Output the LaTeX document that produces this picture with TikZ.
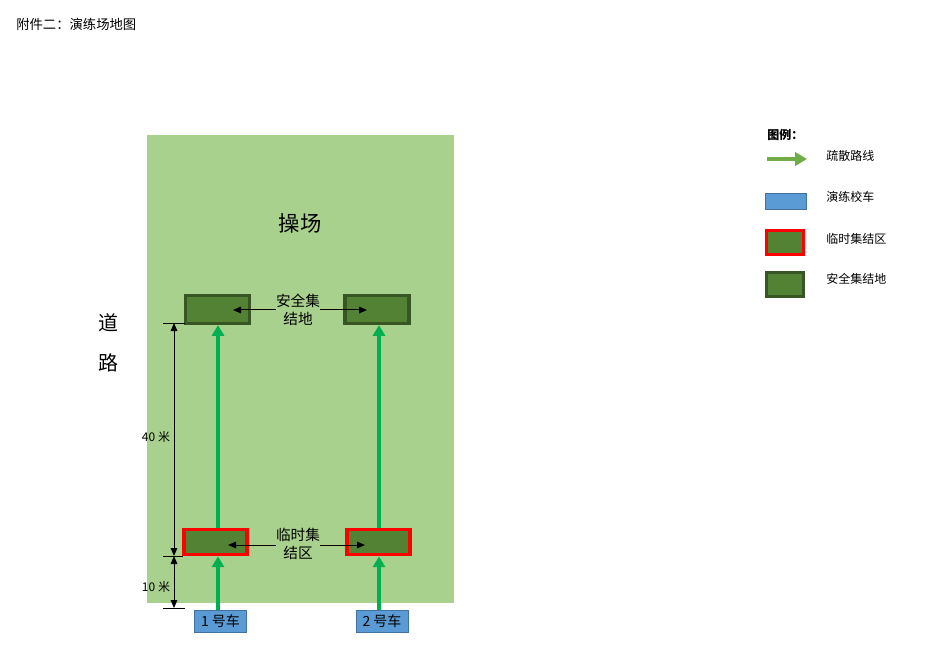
\documentclass[tikz,border=0pt]{standalone}
\usepackage{fontspec}
\setmainfont{Noto Sans CJK SC}
\usetikzlibrary{arrows.meta}
\definecolor{field}{HTML}{A9D18E}
\definecolor{boxfill}{HTML}{548235}
\definecolor{boxdark}{HTML}{375623}
\definecolor{routegreen}{HTML}{00B050}
\definecolor{legendgreen}{HTML}{70AD47}
\definecolor{busfill}{HTML}{5B9BD5}
\definecolor{busedge}{HTML}{41719C}
\begin{document}
\begin{tikzpicture}[x=0.75pt,y=-0.75pt,
  safebox/.style={draw=boxdark,fill=boxfill,line width=2.4pt,inner sep=0pt},
  tempbox/.style={draw=red,fill=boxfill,line width=2.6pt,inner sep=0pt},
  busbox/.style={draw=busedge,fill=busfill,line width=0.6pt,inner sep=0pt},
  route/.style={draw=routegreen,line width=3pt,-{Triangle[length=8pt,width=9pt]}},
  pointer/.style={draw=black,line width=0.75pt,-{Triangle[length=6pt,width=5pt]}},
  dim/.style={draw=black,line width=0.75pt},
  dimarrow/.style={dim,{Triangle[length=6pt,width=5pt]}-{Triangle[length=6pt,width=5pt]}},
  lbl/.style={inner sep=0pt,align=center}
]
\useasboundingbox (0,0) rectangle (934,648);
% title
\node[lbl,anchor=west,font=\fontsize{10pt}{11pt}\selectfont] (title) at (16,24) {附件二：演练场地图};
% field
\fill[field] (147,135) rectangle (454,603);
\node[lbl,font=\fontsize{16pt}{18pt}\selectfont] (playground) at (300,223) {操场};
% safety boxes
\node[safebox,minimum width=48pt,minimum height=21pt] (s1) at (217.5,309.5) {};
\node[safebox,minimum width=48pt,minimum height=21pt] (s2) at (377,309.5) {};
\node[lbl,font=\fontsize{11pt}{13pt}\selectfont] (stext) at (298,310) {安全集\\结地};
\coordinate (s1c) at (233,310);
\coordinate (s2c) at (367,310);
\draw[pointer] (stext.west |- s1c) -- (s1c);
\draw[pointer] (stext.east |- s2c) -- (s2c);
% temp boxes
\node[tempbox,minimum width=47pt,minimum height=19pt] (t1) at (215.5,542) {};
\node[tempbox,minimum width=47pt,minimum height=19pt] (t2) at (378.5,542) {};
\node[lbl,font=\fontsize{11pt}{13pt}\selectfont] (ttext) at (298,544) {临时集\\结区};
\coordinate (t1c) at (228,545);
\coordinate (t2c) at (365,545);
\draw[pointer] (ttext.west |- t1c) -- (t1c);
\draw[pointer] (ttext.east |- t2c) -- (t2c);
% buses
\node[busbox,minimum width=39pt,minimum height=16.5pt,font=\fontsize{10.5pt}{12pt}\selectfont] (b1) at (220.5,621) {1 号车};
\node[busbox,minimum width=39pt,minimum height=16.5pt,font=\fontsize{10.5pt}{12pt}\selectfont] (b2) at (382,621) {2 号车};
% routes
\draw[route] (t1.north -| 218,0) -- (s1.south -| 218,0);
\draw[route] (t2.north -| 379,0) -- (s2.south -| 379,0);
\draw[route] (b1.north -| 218,0) -- (t1.south -| 218,0);
\draw[route] (b2.north -| 379,0) -- (t2.south -| 379,0);
% dimensions
\coordinate (d1) at (174,323);
\coordinate (d2) at (174,556);
\coordinate (d3) at (174,608);
\draw[dim] (163,323) -- (185,323);
\draw[dim] (163,556) -- (183,556);
\draw[dim] (163,608) -- (185,608);
\draw[dimarrow] (d1) -- (d2);
\draw[dimarrow] (d2) -- (d3);
\node[lbl,font=\fontsize{9pt}{10pt}\selectfont] (d40) at (156,437) {40 米};
\node[lbl,font=\fontsize{9pt}{10pt}\selectfont] (d10) at (156,587) {10 米};
% road
\node[lbl,font=\fontsize{15pt}{17pt}\selectfont] (road1) at (108,323) {道};
\node[lbl,font=\fontsize{15pt}{17pt}\selectfont] (road2) at (108,363) {路};
% legend
\node[lbl,anchor=west,font=\bfseries\fontsize{9pt}{10pt}\selectfont] (legtitle) at (767,135) {图例：};
\coordinate (la1) at (767,159);
\coordinate (la2) at (807,159);
\draw[draw=legendgreen,line width=3.5pt,-{Triangle[length=9pt,width=10pt]}] (la1) -- (la2);
\node[lbl,anchor=west,font=\fontsize{9pt}{10pt}\selectfont] (leg1) at (826,156) {疏散路线};
\node[busbox,minimum width=31pt,minimum height=12pt] (lb) at (786,201) {};
\node[lbl,anchor=west,font=\fontsize{9pt}{10pt}\selectfont] (leg2) at (826,197) {演练校车};
\node[tempbox,minimum width=28pt,minimum height=18pt] (lt) at (785,242.5) {};
\node[lbl,anchor=west,font=\fontsize{9pt}{10pt}\selectfont] (leg3) at (826,239) {临时集结区};
\node[safebox,minimum width=28pt,minimum height=18pt] (ls) at (785,284.5) {};
\node[lbl,anchor=west,font=\fontsize{9pt}{10pt}\selectfont] (leg4) at (826,279) {安全集结地};
\end{tikzpicture}
\end{document}
